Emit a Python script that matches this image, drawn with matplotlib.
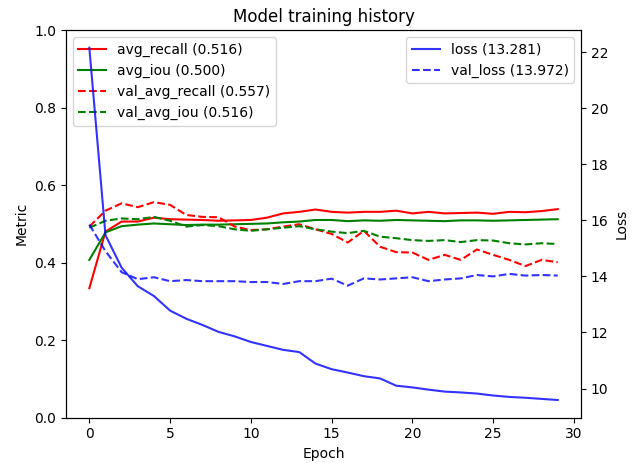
import numpy as np
import matplotlib
matplotlib.use("Agg")
import matplotlib.pyplot as plt

# values, one per epoch
epochs = np.arange(30)

avg_recall = [0.334, 0.480, 0.506, 0.506, 0.516, 0.512, 0.511, 0.510, 0.508, 0.509,
              0.510, 0.516, 0.527, 0.531, 0.537, 0.531, 0.529, 0.531, 0.531, 0.534,
              0.527, 0.531, 0.527, 0.528, 0.529, 0.526, 0.531, 0.530, 0.533, 0.538]
avg_iou = [0.407, 0.478, 0.494, 0.498, 0.501, 0.499, 0.497, 0.498, 0.498, 0.499,
           0.500, 0.501, 0.504, 0.506, 0.510, 0.510, 0.507, 0.509, 0.508, 0.510,
           0.509, 0.508, 0.507, 0.509, 0.509, 0.508, 0.509, 0.510, 0.511, 0.512]
val_avg_recall = [0.493, 0.534, 0.553, 0.543, 0.556, 0.549, 0.523, 0.518, 0.517, 0.493,
                  0.484, 0.486, 0.493, 0.499, 0.486, 0.474, 0.452, 0.482, 0.441, 0.427,
                  0.426, 0.407, 0.420, 0.407, 0.434, 0.420, 0.407, 0.391, 0.407, 0.401]
val_avg_iou = [0.490, 0.508, 0.514, 0.512, 0.518, 0.508, 0.493, 0.497, 0.494, 0.486,
               0.482, 0.486, 0.490, 0.494, 0.486, 0.480, 0.476, 0.482, 0.467, 0.463,
               0.458, 0.456, 0.458, 0.453, 0.458, 0.457, 0.450, 0.447, 0.450, 0.448]
loss = [22.16, 15.47, 14.31, 13.65, 13.30, 12.78, 12.49, 12.27, 12.02, 11.86,
        11.66, 11.52, 11.38, 11.30, 10.89, 10.69, 10.57, 10.44, 10.36, 10.10,
        10.04, 9.96, 9.89, 9.86, 9.82, 9.75, 9.70, 9.67, 9.63, 9.59]
val_loss = [15.85, 14.90, 14.15, 13.90, 13.97, 13.83, 13.87, 13.83, 13.83, 13.83,
            13.80, 13.80, 13.73, 13.83, 13.83, 13.92, 13.67, 13.93, 13.89, 13.93,
            13.97, 13.83, 13.89, 13.93, 14.05, 14.00, 14.09, 14.03, 14.05, 14.03]

metric_labels = ["avg_recall (0.516)", "avg_iou (0.500)",
                 "val_avg_recall (0.557)", "val_avg_iou (0.516)"]
loss_labels = ["loss (13.281)", "val_loss (13.972)"]

fig, ax1 = plt.subplots(figsize=(6.4, 4.63), dpi=100)
fig.subplots_adjust(left=0.103, right=0.908, bottom=0.098, top=0.935)

ax1.plot(epochs, avg_recall, color="r", label=metric_labels[0])
ax1.plot(epochs, avg_iou, color="g", label=metric_labels[1])
ax1.plot(epochs, val_avg_recall, color="r", linestyle="--", label=metric_labels[2])
ax1.plot(epochs, val_avg_iou, color="g", linestyle="--", label=metric_labels[3])
ax1.set_ylim(0, 1)
ax1.set_xlabel("Epoch")
ax1.set_ylabel("Metric")
ax1.legend(loc="upper left")

ax2 = ax1.twinx()
ax2.plot(epochs, loss, color="b", alpha=0.8, label=loss_labels[0])
ax2.plot(epochs, val_loss, color="b", alpha=0.8, linestyle="--", label=loss_labels[1])
ax2.set_ylabel("Loss")
ax2.legend(loc="upper right")

plt.title("Model training history")
fig.savefig("out.png", dpi=100)
